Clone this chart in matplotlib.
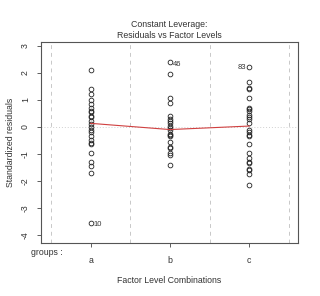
import numpy as np
import matplotlib.pyplot as plt

plt.rcParams["font.family"] = ["Liberation Sans", "DejaVu Sans"]

groups = ["a", "b", "c"]

res_a = [2.1, 1.4, 1.2, 1.0, 0.85, 0.7, 0.6, 0.55, 0.4, 0.35, 0.2, 0.1, 0.0,
         -0.1, -0.2, -0.35, -0.5, -0.6, -0.65, -0.95, -1.3, -1.45, -1.7, -3.55]
res_b = [2.4, 1.95, 1.05, 0.9, 0.4, 0.3, 0.2, 0.15, 0.05, -0.05, -0.1, -0.25,
         -0.3, -0.35, -0.55, -0.75, -0.8, -0.95, -1.05, -1.4]
res_c = [2.2, 1.65, 1.45, 1.4, 1.05, 0.7, 0.65, 0.6, 0.45, 0.35, 0.3, 0.15,
         -0.1, -0.2, -0.3, -0.35, -0.65, -0.95, -1.15, -1.3, -1.35, -1.55,
         -1.6, -1.75, -2.15]
smooth = [0.13, -0.1, 0.03]

# labelled extreme points: (group index, value, label, side)
labels = [(0, -3.55, "10", "right"), (1, 2.4, "46", "right"), (2, 2.2, "83", "left")]

fig = plt.figure(figsize=(3.2, 2.96), dpi=100)
ax = fig.add_axes([0.128, 0.179, 0.803, 0.679])

for x in [0.5, 1.5, 2.5, 3.5]:
    ax.axvline(x, color="#c8c8c8", lw=0.7, ls=(0, (4, 4)), zorder=0)
ax.axhline(0, color="#d0d0d0", lw=0.7, ls=(0, (1, 2)), zorder=0)

for i, vals in enumerate([res_a, res_b, res_c]):
    ax.plot([i + 1] * len(vals), vals, "o", mfc="none", mec="#222222",
            ms=3.4, mew=0.6)

ax.plot([1, 2, 3], smooth, color="#d04040", lw=0.8)

for gi, v, lab, side in labels:
    if side == "right":
        ax.annotate(lab, (gi + 1, v), xytext=(2, -1.5), textcoords="offset points",
                    fontsize=5.5, ha="left", va="center", color="#333333")
    else:
        ax.annotate(lab, (gi + 1, v), xytext=(-2, 0), textcoords="offset points",
                    fontsize=5.5, ha="right", va="center", color="#333333")

ax.set_xlim(0.373, 3.614)
ax.set_ylim(-4.3, 3.14)
ax.set_xticks([1, 2, 3])
ax.set_xticklabels(["", "", ""])
ax.set_yticks([3, 2, 1, 0, -1, -2, -3, -4])
ax.set_yticklabels(["3", "2", "1", "0", "-1", "-2", "-3", "-4"], rotation=90,
                   va="center", fontsize=6.3, color="#333333")
ax.tick_params(length=3, width=0.6, color="#444444")
ax.tick_params(axis="y", pad=5)

for s in ax.spines.values():
    s.set_color("#555555")
    s.set_linewidth(0.8)

for i, g in enumerate(groups):
    ax.text(i + 1, -0.065, g, transform=ax.get_xaxis_transform(), ha="center",
            va="top", fontsize=6.3, color="#333333")
ax.text(0.373 - 0.125, -0.025, "groups :", transform=ax.get_xaxis_transform(),
        ha="left", va="top", fontsize=6.3, color="#333333")

ax.set_xlabel("Factor Level Combinations", fontsize=6.3, color="#333333", labelpad=17)
ax.set_ylabel("Standardized residuals", fontsize=6.3, color="#333333", labelpad=4)
ax.set_title("Constant Leverage:\nResiduals vs Factor Levels", fontsize=6.3,
             color="#333333", pad=3, linespacing=1.3)

fig.savefig("out.png", dpi=100)
